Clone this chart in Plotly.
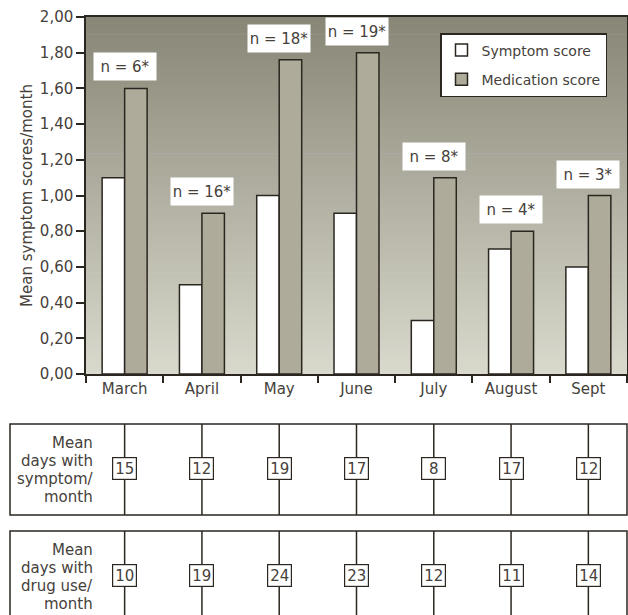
import plotly.graph_objects as go

# ---------------- data ----------------
months = ["March", "April", "May", "June", "July", "August", "Sept"]
symptom_score = [1.10, 0.50, 1.00, 0.90, 0.30, 0.70, 0.60]
medication_score = [1.60, 0.90, 1.76, 1.80, 1.10, 0.80, 1.00]
n_labels = ["n = 6*", "n = 16*", "n = 18*", "n = 19*", "n = 8*", "n = 4*", "n = 3*"]
days_symptom = [15, 12, 19, 17, 8, 17, 12]
days_drug = [10, 19, 24, 23, 12, 11, 14]
y_tick_values = [0.0, 0.2, 0.4, 0.6, 0.8, 1.0, 1.2, 1.4, 1.6, 1.8, 2.0]
y_tick_labels = ["0,00", "0,20", "0,40", "0,60", "0,80", "1,00", "1,20", "1,40", "1,60", "1,80", "2,00"]
table1_label = ["Mean", "days with", "symptom/", "month"]
table2_label = ["Mean", "days with", "drug use/", "month"]

# ---------------- layout helpers ----------------
W, H = 628, 615
ML, MR, MT, MB = 86, 1, 17, 0
PW, PH = W - ML - MR, H - MT - MB


def pxx(x):
    return (x - ML) / PW


def pyy(y):
    return (H - MB - y) / PH


FONT = "DejaVu Sans"
TXT = "#45413b"
LINE = "#2b2720"
MED = "#aeab9a"

fig = go.Figure()

fig.add_trace(go.Bar(
    x=months, y=symptom_score, name="Symptom score",
    marker=dict(color="white", line=dict(color=LINE, width=1.5)),
    legendgroup="a", xaxis="x", yaxis="y", hoverinfo="skip",
))
fig.add_trace(go.Bar(
    x=months, y=medication_score, name="Medication score",
    marker=dict(color=MED, line=dict(color=LINE, width=1.5)),
    legendgroup="b", xaxis="x", yaxis="y", hoverinfo="skip",
))

# vertical lines of the two tables
for ax in ("2", "3"):
    xs, ys = [], []
    for m in months:
        xs += [m, m, None]
        ys += [0, 1, None]
    fig.add_trace(go.Scatter(
        x=xs, y=ys, mode="lines", line=dict(color=LINE, width=1.5),
        xaxis="x" + ax, yaxis="y" + ax, showlegend=False, hoverinfo="skip",
    ))

shapes = []
# gradient background of the plot area
N = 120
top_c = (136, 134, 118)
bot_c = (217, 217, 205)
for i in range(N):
    t = (i + 0.5) / N  # 0 bottom -> 1 top
    c = tuple(int(round(bot_c[k] + (top_c[k] - bot_c[k]) * t)) for k in range(3))
    shapes.append(dict(
        type="rect", xref="x domain", yref="y domain",
        x0=0, x1=1, y0=i / N, y1=(i + 1) / N + 0.002,
        fillcolor="rgb(%d,%d,%d)" % c, line=dict(width=0), layer="below",
    ))

# table frames
t1_top, t1_bot = 424, 515
t2_top, t2_bot = 531, 622
for top, bot in ((t1_top, t1_bot), (t2_top, t2_bot)):
    shapes.append(dict(
        type="rect", xref="paper", yref="paper",
        x0=pxx(10), x1=1, y0=pyy(bot), y1=pyy(top),
        line=dict(color=LINE, width=1.5), fillcolor="rgba(0,0,0,0)", layer="above",
    ))

annotations = []
# n labels above bars
for m, s, md, lab in zip(months, symptom_score, medication_score, n_labels):
    annotations.append(dict(
        x=m, y=max(s, md), xref="x", yref="y", text=lab, showarrow=False,
        yanchor="bottom", yshift=7, width=60, height=25, borderpad=1,
        bgcolor="white", font=dict(family=FONT, size=15, color=TXT),
    ))

# numbers in tables
for ax, vals in (("2", days_symptom), ("3", days_drug)):
    for m, v in zip(months, vals):
        annotations.append(dict(
            x=m, y=0.51, xref="x" + ax, yref="y" + ax, text=str(v), showarrow=False,
            width=19, height=17, borderpad=2, borderwidth=1.2, bordercolor=LINE,
            bgcolor="white", font=dict(family=FONT, size=15, color=TXT),
        ))

# table row labels
for top, lines in ((t1_top, table1_label), (t2_top, table2_label)):
    for i, ln in enumerate(lines):
        annotations.append(dict(
            x=pxx(95), y=pyy(top + 19 + 18 * i), xref="paper", yref="paper",
            text=ln, showarrow=False, xanchor="right", yanchor="middle",
            font=dict(family=FONT, size=15, color=TXT),
        ))

fig.update_layout(
    width=W, height=H,
    margin=dict(l=ML, r=MR, t=MT, b=MB),
    paper_bgcolor="white", plot_bgcolor="rgba(0,0,0,0)",
    font=dict(family=FONT, size=15, color=TXT),
    barmode="group", bargap=0.418, bargroupgap=0,
    showlegend=True,
    legend=dict(
        x=pxx(440), y=pyy(33), xanchor="left", yanchor="top",
        bgcolor="white", bordercolor=LINE, borderwidth=1.5,
        font=dict(family=FONT, size=14, color=TXT),
        traceorder="grouped", tracegroupgap=8,
    ),
    xaxis=dict(
        domain=[0, 1], anchor="y", type="category", categoryorder="array",
        categoryarray=months, range=[-0.5, 6.5],
        showline=True, mirror=True, linecolor=LINE, linewidth=1.5,
        ticks="outside", tickson="boundaries", ticklen=7, tickwidth=1.5, tickcolor=LINE,
        showgrid=False, zeroline=False, automargin=False,
        tickfont=dict(family=FONT, size=15, color=TXT),
    ),
    yaxis=dict(
        domain=[pyy(374), 1], anchor="x", range=[0, 2],
        tickvals=y_tick_values, ticktext=y_tick_labels,
        showline=True, mirror=True, linecolor=LINE, linewidth=1.5,
        ticks="outside", ticklen=8, tickwidth=1.5, tickcolor=LINE,
        showgrid=False, zeroline=False, automargin=False,
        tickfont=dict(family=FONT, size=15, color=TXT),
        title=dict(text="Mean symptom scores/month", standoff=4,
                   font=dict(family=FONT, size=15, color=TXT)),
    ),
    xaxis2=dict(
        domain=[0, 1], anchor="y2", type="category", categoryorder="array",
        categoryarray=months, range=[-0.5, 6.5], visible=False,
    ),
    yaxis2=dict(
        domain=[pyy(t1_bot), pyy(t1_top)], anchor="x2", range=[0, 1], visible=False,
    ),
    xaxis3=dict(
        domain=[0, 1], anchor="y3", type="category", categoryorder="array",
        categoryarray=months, range=[-0.5, 6.5], visible=False,
    ),
    yaxis3=dict(
        domain=[0, pyy(t2_top)], anchor="x3",
        range=[1 - (H - t2_top) / (t2_bot - t2_top), 1], visible=False,
    ),
    shapes=shapes,
    annotations=annotations,
)

fig.write_html(
    "out.html",
    config={"displayModeBar": False},
    post_script="document.body.style.margin='0px';document.body.style.overflow='hidden';",
)
